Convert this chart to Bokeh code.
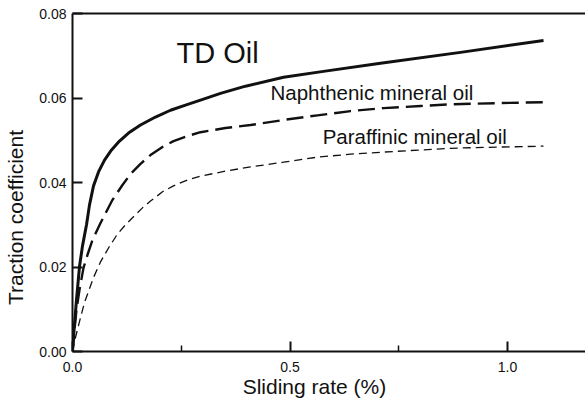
import math
from bokeh.plotting import figure
from bokeh.models import Range1d, FixedTicker, LinearAxis, Label, NumeralTickFormatter
from bokeh.embed import file_html
from bokeh.resources import INLINE

# ---- data ----
td_x = [0, 0.0046, 0.0092, 0.0161, 0.0230, 0.0322, 0.0391, 0.0483, 0.0598, 0.0736, 0.0897, 0.1080,
        0.1287, 0.1563, 0.1908, 0.2253, 0.2598, 0.2943, 0.3402, 0.3977, 0.4851, 0.5770, 0.7080,
        0.8920, 1.0828]
td_y = [0, 0.0064, 0.0123, 0.0201, 0.0250, 0.0300, 0.0347, 0.0392, 0.0425, 0.0453, 0.0477, 0.0498,
        0.0517, 0.0536, 0.0555, 0.0571, 0.0583, 0.0595, 0.0611, 0.0628, 0.0649, 0.0663, 0.0682,
        0.0708, 0.0736]

naph_x = [0, 0.0046, 0.0092, 0.0161, 0.0253, 0.0345, 0.0460, 0.0644, 0.0920, 0.1149, 0.1333, 0.1563,
          0.1793, 0.2069, 0.2322, 0.2644, 0.2943, 0.3517, 0.4092, 0.4851, 0.5632, 0.6391, 0.7149,
          0.8000, 0.8690, 0.9839, 1.0828]
naph_y = [0, 0.0052, 0.0099, 0.0146, 0.0198, 0.0229, 0.0264, 0.0304, 0.0359, 0.0394, 0.0420, 0.0444,
          0.0465, 0.0484, 0.0498, 0.0510, 0.0519, 0.0529, 0.0536, 0.0548, 0.0559, 0.0569, 0.0576,
          0.0581, 0.0585, 0.0588, 0.0590]

para_x = [0, 0.0046, 0.0115, 0.0184, 0.0276, 0.0368, 0.0483, 0.0644, 0.0828, 0.1034, 0.1218, 0.1402,
          0.1609, 0.1793, 0.2069, 0.2322, 0.2644, 0.2943, 0.3517, 0.4092, 0.4851, 0.5632, 0.6391,
          0.7149, 0.8000, 0.8690, 0.9839, 1.0828]
para_y = [0, 0.0024, 0.0052, 0.0080, 0.0116, 0.0142, 0.0175, 0.0212, 0.0245, 0.0278, 0.0300, 0.0319,
          0.0340, 0.0356, 0.0378, 0.0392, 0.0406, 0.0415, 0.0427, 0.0437, 0.0448, 0.0460, 0.0467,
          0.0472, 0.0477, 0.0481, 0.0484, 0.0486]

x_ticks = [0.0, 0.5, 1.0]
x_minor_ticks = [0.25, 0.75]
x_tick_labels = ["0.0", "0.5", "1.0"]
y_ticks = [0.00, 0.02, 0.04, 0.06, 0.08]
y_tick_labels = ["0.00", "0.02", "0.04", "0.06", "0.08"]

series_labels = ["TD Oil", "Naphthenic mineral oil", "Paraffinic mineral oil"]
x_title = "Sliding rate (%)"
y_title = "Traction coefficient"

FONT = "Liberation Sans"
TICK_FONT = "Liberation Sans"
INK = "#111111"
NBSP = "\u00a0"

p = figure(width=585, height=401, output_backend="svg", toolbar_location=None,
           x_range=Range1d(0, 1.1793), y_range=Range1d(0, 0.08),
           min_border_left=72, min_border_right=0, min_border_top=13, min_border_bottom=50)
p.outline_line_color = None
p.grid.visible = False
p.background_fill_color = "white"
p.border_fill_color = "white"

# curves
p.line(td_x, td_y, line_color=INK, line_width=3.0, line_join="round")
p.line(naph_x, naph_y, line_color=INK, line_width=2.4, line_dash="17 7")
p.line(para_x, para_y, line_color=INK, line_width=1.3, line_dash="8 5")

# axes
xa = p.xaxis[0]
xa.ticker = FixedTicker(ticks=x_ticks, minor_ticks=x_minor_ticks)
xa.formatter = NumeralTickFormatter(format="0.0")
xa.major_label_overrides = dict(zip(x_ticks, x_tick_labels))
ya = p.yaxis[0]
ya.ticker = FixedTicker(ticks=y_ticks, minor_ticks=[])
ya.formatter = NumeralTickFormatter(format="0.00")
ya.major_label_overrides = dict(zip(y_ticks, y_tick_labels))

for ax in (xa, ya):
    ax.axis_line_width = 2
    ax.axis_line_color = INK
    ax.major_tick_in = 10
    ax.major_tick_out = 0
    ax.major_tick_line_width = 2
    ax.major_tick_line_color = INK
    ax.minor_tick_in = 6
    ax.minor_tick_out = 0
    ax.minor_tick_line_width = 1.5
    ax.minor_tick_line_color = INK
    ax.major_label_text_font = TICK_FONT
    ax.major_label_text_font_size = "14px"
    ax.major_label_text_color = INK
    ax.axis_label_text_font = FONT
    ax.axis_label_text_font_size = "21px"
    ax.axis_label_text_font_style = "normal"
    ax.axis_label_text_color = INK
xa.major_label_standoff = 10
ya.major_label_standoff = 6

# axis titles (padded so that they sit where the reference has them)
ya.axis_label = y_title + NBSP * 12
ya.axis_label_standoff = 9
xa.axis_label = x_title + NBSP * 5
xa.axis_label_standoff = 0

top = LinearAxis(ticker=FixedTicker(ticks=[]), axis_line_width=2, axis_line_color=INK,
                 major_tick_line_color=None, minor_tick_line_color=None,
                 major_label_standoff=0, major_label_text_font_size="0px")
p.add_layout(top, "above")

# in-plot labels
p.add_layout(Label(x=0.239, y=0.0706, text=series_labels[0], text_font=FONT,
                   text_font_size="29px", text_color=INK, text_baseline="middle"))
p.add_layout(Label(x=0.455, y=0.0614, text=series_labels[1], text_font=FONT,
                   text_font_size="20.5px", text_color=INK, text_baseline="middle"))
p.add_layout(Label(x=0.575, y=0.0508, text=series_labels[2], text_font=FONT,
                   text_font_size="20.5px", text_color=INK, text_baseline="middle"))

open("out.html", "w").write(file_html(p, INLINE))
